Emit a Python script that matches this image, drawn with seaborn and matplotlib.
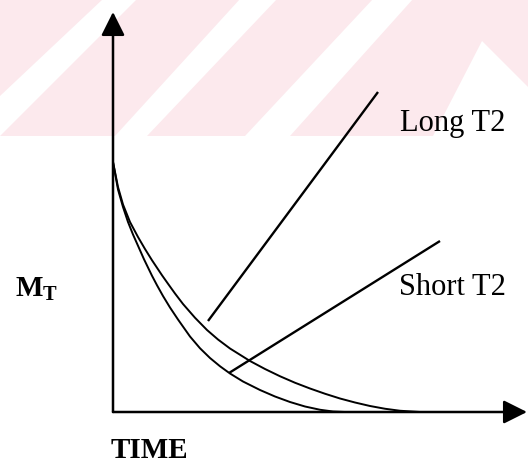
import matplotlib
matplotlib.use("Agg")
import matplotlib.pyplot as plt
import pandas as pd
import seaborn as sns

sns.set_theme(style="white")
plt.rcParams["font.family"] = ["Liberation Serif", "DejaVu Serif"]
plt.rcParams["text.color"] = "black"
plt.rcParams["mathtext.fontset"] = "custom"
plt.rcParams["mathtext.rm"] = "Liberation Serif"
plt.rcParams["mathtext.bf"] = "Liberation Serif:bold"

# 数据（从图上读取，时间/幅值为任意单位）
short_t = [0, 0.05, 0.10, 0.15, 0.20, 0.25, 0.31, 0.39, 0.44, 0.50, 0.57, 0.65,
           0.77, 0.87, 0.97, 1.07, 1.17, 1.30, 1.47, 1.62, 1.77, 1.92, 2.07, 2.20, 2.32]
short_m = [1.0, 0.89, 0.82, 0.76, 0.71, 0.665, 0.611, 0.545, 0.507, 0.464, 0.418, 0.37,
           0.302, 0.255, 0.216, 0.183, 0.154, 0.122, 0.088, 0.062, 0.04, 0.022, 0.009, 0.002, 0.0]
long_t = [0, 0.05, 0.10, 0.17, 0.25, 0.32, 0.39, 0.49, 0.55, 0.62, 0.70, 0.82, 0.94,
          1.05, 1.17, 1.37, 1.52, 1.67, 1.82, 1.97, 2.12, 2.27, 2.42, 2.57, 2.72, 2.87, 3.07]
long_m = [1.0, 0.90, 0.83, 0.76, 0.70, 0.652, 0.607, 0.547, 0.513, 0.474, 0.432, 0.377, 0.328,
          0.29, 0.254, 0.204, 0.172, 0.143, 0.117, 0.094, 0.073, 0.054, 0.038, 0.024, 0.013, 0.005, 0.0]

# 标注引线（起点在曲线旁，终点靠近文字）
long_leader_t = [0.95, 2.65]
long_leader_m = [0.364, 1.28]
short_leader_t = [1.16, 3.27]
short_leader_m = [0.156, 0.684]

labels = ["Long T2", "Short T2"]
label_t = [2.87, 2.86]
label_m = [1.128, 0.472]

X_LIM = (-1.13, 4.15)
Y_LIM = (-0.204, 1.652)

df = pd.concat([
    pd.DataFrame({"t": short_t, "m": short_m, "T2": "short"}),
    pd.DataFrame({"t": long_t, "m": long_m, "T2": "long"}),
])

fig = plt.figure(figsize=(5.28, 4.64), dpi=100)
ax = fig.add_axes([0, 0, 1, 1])
ax.set_xlim(*X_LIM)
ax.set_ylim(*Y_LIM)
ax.axis("off")


# 背景水印（淡粉色斜条纹），像素坐标 -> 轴坐标
def px(pts):
    return [p[0] / 528 for p in pts], [1 - p[1] / 464 for p in pts]


pink = "#fce9ed"
xs, ys = px([(0, 0), (528, 0), (528, 137), (0, 137)])
ax.fill(xs, ys, color=pink, transform=ax.transAxes, zorder=0, lw=0)
for poly in [
    [(0, 97), (103, 0), (137, 0), (0, 137)],
    [(240, 0), (277, 0), (147, 137), (115, 137)],
    [(373, 0), (413, 0), (290, 137), (245, 137)],
    [(433, 137), (482, 42), (528, 88), (528, 137)],
]:
    xs, ys = px(poly)
    ax.fill(xs, ys, color="white", transform=ax.transAxes, zorder=0.5, lw=0)

# 坐标轴箭头
arrow = dict(arrowstyle="-|>,head_length=0.4,head_width=0.2", mutation_scale=36,
             lw=1.8, color="black", shrinkA=0, shrinkB=0)
ax.annotate("", xy=(0, 1.6), xytext=(0, 0), arrowprops=arrow, zorder=3)
ax.annotate("", xy=(4.14, 0), xytext=(0, 0), arrowprops=arrow, zorder=3)

# 衰减曲线
sns.lineplot(data=df, x="t", y="m", units="T2", estimator=None, sort=False,
             color="black", lw=1.4, ax=ax, legend=False, zorder=2)

ax.plot(long_leader_t, long_leader_m, color="black", lw=1.7, solid_capstyle="butt")
ax.plot(short_leader_t, short_leader_m, color="black", lw=1.7, solid_capstyle="butt")

for s, t, m in zip(labels, label_t, label_m):
    ax.text(t, m, s, fontsize=22, ha="left", va="baseline", color="black")

ax.text(-0.98, 0.464, r"$\mathbf{M_T}$", fontsize=21, ha="left", va="baseline", color="black")
ax.text(-0.02, -0.18, "TIME", fontsize=21, fontweight="bold", ha="left", va="baseline",
        color="black")

fig.savefig("out.png", dpi=100)
